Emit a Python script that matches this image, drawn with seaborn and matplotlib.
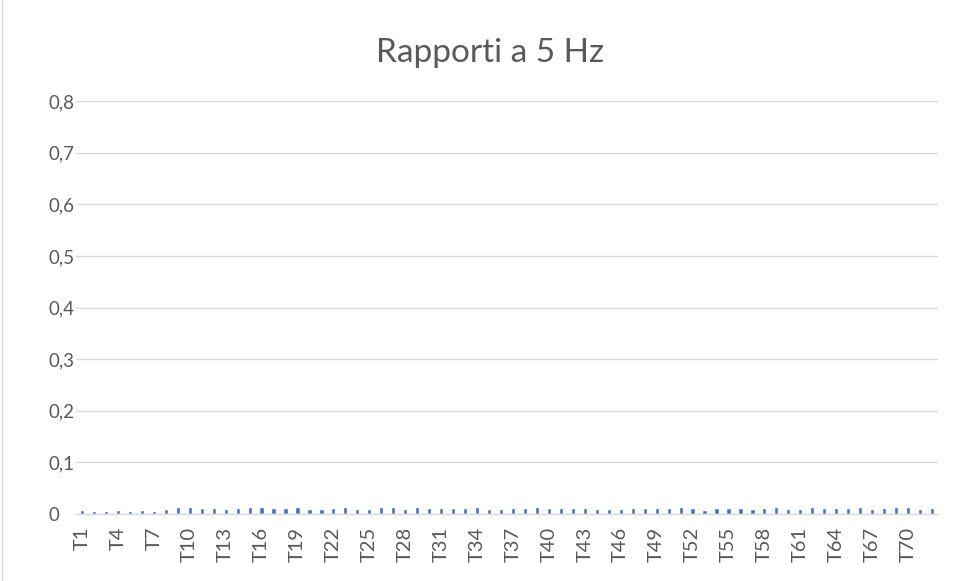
import matplotlib
matplotlib.use("Agg")
import matplotlib.pyplot as plt
import matplotlib.lines as mlines
import seaborn as sns
import pandas as pd

# Ratio readings at 5 Hz for each test T1..T72
categories = [f"T{i}" for i in range(1, 73)]
values = [
    0.0077, 0.0051, 0.0064, 0.0071, 0.0064, 0.0071, 0.0064, 0.0090, 0.0128, 0.0128,
    0.0109, 0.0115, 0.0103, 0.0122, 0.0141, 0.0128, 0.0109, 0.0109, 0.0141, 0.0103,
    0.0103, 0.0115, 0.0135, 0.0103, 0.0103, 0.0128, 0.0128, 0.0096, 0.0135, 0.0122,
    0.0122, 0.0115, 0.0115, 0.0128, 0.0103, 0.0103, 0.0122, 0.0115, 0.0141, 0.0122,
    0.0115, 0.0122, 0.0122, 0.0096, 0.0103, 0.0103, 0.0115, 0.0115, 0.0109, 0.0122,
    0.0135, 0.0122, 0.0083, 0.0122, 0.0109, 0.0122, 0.0103, 0.0122, 0.0128, 0.0103,
    0.0103, 0.0135, 0.0122, 0.0122, 0.0115, 0.0141, 0.0096, 0.0122, 0.0128, 0.0128,
    0.0103, 0.0115,
]
tick_labels = categories[::3]
title = "Rapporti a 5 Hz"
y_ticks = [0.0, 0.1, 0.2, 0.3, 0.4, 0.5, 0.6, 0.7, 0.8]

df = pd.DataFrame({"test": categories, "ratio": values})

sns.set_theme(style="white")
plt.rcParams["font.family"] = ["Lato", "DejaVu Sans"]

text_color = "#595959"
grid_color = "#d9d9d9"
bar_color = "#4472C4"

fig = plt.figure(figsize=(9.61, 5.81), dpi=100)
ax = fig.add_axes([76 / 961, 1 - 514 / 581, (938 - 76) / 961, (514 - 101) / 581])

sns.barplot(data=df, x="test", y="ratio", color=bar_color, width=0.35,
            saturation=1, ax=ax, order=categories)

ax.set_xlim(-0.5, len(categories) - 0.5)
ax.set_ylim(0, 0.8)
ax.set_yticks(y_ticks)
ax.set_yticklabels([f"{v:.1f}".replace(".", ",") if v else "0" for v in y_ticks],
                   fontsize=13.5, color=text_color)
ax.set_xticks(range(0, len(categories), 3))
ax.set_xticklabels(tick_labels, rotation=90, fontsize=14.5, color=text_color)
ax.tick_params(axis="both", length=0)
ax.tick_params(axis="y", pad=20)
ax.tick_params(axis="x", pad=9)
for lbl in ax.get_yticklabels():
    lbl.set_horizontalalignment("left")
ax.set_xlabel("")
ax.set_ylabel("")

ax.grid(axis="y", color=grid_color, linewidth=1)
ax.set_axisbelow(True)
for side in ["top", "right", "left"]:
    ax.spines[side].set_visible(False)
ax.spines["bottom"].set_color(grid_color)
ax.spines["bottom"].set_linewidth(1)

fig.text(490 / 961, 1 - 53 / 581, title, ha="center", va="center",
         fontsize=24, color=text_color)

# Chart-area edge on the left
fig.add_artist(mlines.Line2D([1.5 / 961, 1.5 / 961], [0, 1], color=grid_color,
                             linewidth=1, transform=fig.transFigure))

fig.savefig("out.png", dpi=100)
